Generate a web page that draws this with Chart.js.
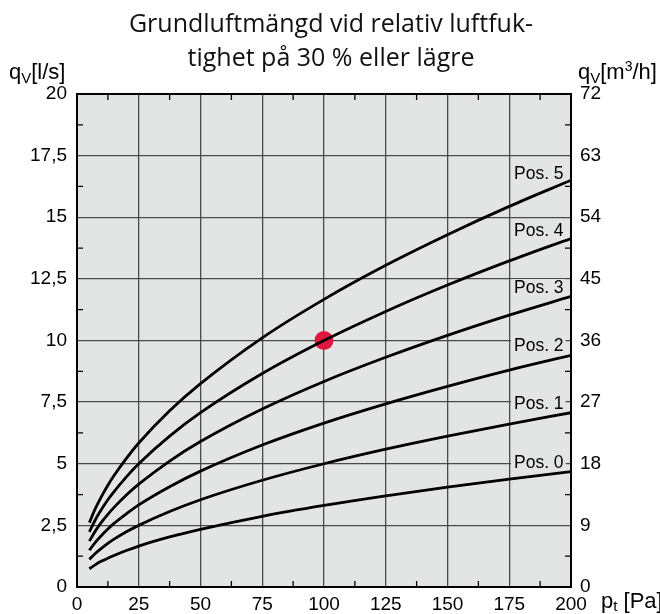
<!DOCTYPE html>
<html>
<head>
<meta charset="utf-8">
<script src="https://cdn.jsdelivr.net/npm/chart.js@4.4.1/dist/chart.umd.min.js"></script>
<style>
  html, body { margin: 0; padding: 0; background: #fff; }
  #wrap { width: 660px; height: 614px; }
</style>
</head>
<body>
<div id="wrap"><canvas id="myChart" width="660" height="614"></canvas></div>
<script>
const pressure = [5, 7.5, 10, 12.5, 15, 20, 25, 37.5, 50, 75, 100, 125, 150, 175, 200];

// air flow q_V [l/s] per damper position
const pos0 = [0.74, 0.91, 1.05, 1.17, 1.28, 1.48, 1.66, 2.03, 2.34, 2.87, 3.31, 3.70, 4.05, 4.38, 4.68];
const pos1 = [1.12, 1.37, 1.58, 1.77, 1.94, 2.24, 2.50, 3.06, 3.54, 4.33, 5.00, 5.59, 6.12, 6.61, 7.07];
const pos2 = [1.49, 1.82, 2.10, 2.35, 2.58, 2.97, 3.33, 4.07, 4.70, 5.76, 6.65, 7.43, 8.14, 8.80, 9.40];
const pos3 = [1.86, 2.28, 2.64, 2.95, 3.23, 3.73, 4.17, 5.11, 5.90, 7.22, 8.34, 9.32, 10.21, 11.03, 11.79];
const pos4 = [2.24, 2.74, 3.16, 3.54, 3.87, 4.47, 5.00, 6.12, 7.07, 8.66, 10.00, 11.18, 12.25, 13.23, 14.14];
const pos5 = [2.61, 3.20, 3.69, 4.13, 4.52, 5.22, 5.84, 7.15, 8.25, 10.11, 11.67, 13.05, 14.29, 15.44, 16.50];

const posNames = ['Pos. 0', 'Pos. 1', 'Pos. 2', 'Pos. 3', 'Pos. 4', 'Pos. 5'];
// where each "Pos." label sits (x right end, y centre)
const posLabelX = 197;
const posLabelY = [5.03, 7.4, 9.76, 12.13, 14.44, 16.75];

// marked operating point
const pointX = [100];
const pointY = [10];

const titleLines = ['Grundluftmängd vid relativ luftfuk-', 'tighet på 30 % eller lägre'];

const series = [pos0, pos1, pos2, pos3, pos4, pos5];

const toPoints = (xs, ys) => xs.map((x, i) => ({ x: x, y: ys[i] }));

const datasets = series.map((s, i) => ({
  label: posNames[i],
  data: toPoints(pressure, s),
  borderColor: '#000',
  borderWidth: 2.8,
  pointRadius: 0,
  fill: false,
  cubicInterpolationMode: 'monotone',
  yAxisID: 'y'
}));

datasets.push({
  label: 'punkt',
  data: toPoints(pointX, pointY),
  showLine: false,
  pointRadius: 9.5,
  pointBackgroundColor: '#e0173f',
  pointBorderWidth: 0,
  yAxisID: 'y'
});

const TICK_FONT = { family: 'Liberation Sans, Arial, sans-serif', size: 19 };
const PLOT_BG = '#e3e4e4';

// sub/superscript helper: parts = [[text, size, dy], ...]
function drawRich(ctx, x, y, parts) {
  let cx = x;
  parts.forEach(p => {
    ctx.font = p[1] + 'px "Liberation Sans", Arial, sans-serif';
    ctx.fillText(p[0], cx, y + p[2]);
    cx += ctx.measureText(p[0]).width;
  });
}

const decor = {
  id: 'decor',
  beforeDraw(chart) {
    const { ctx, chartArea: a } = chart;
    ctx.save();
    ctx.fillStyle = PLOT_BG;
    ctx.fillRect(a.left, a.top, a.right - a.left, a.bottom - a.top);
    ctx.restore();
  },
  beforeDatasetsDraw(chart) {
    const { ctx, chartArea: a, scales } = chart;
    ctx.save();
    ctx.strokeStyle = '#000';
    ctx.lineWidth = 1.3;
    const len = 6;
    ctx.beginPath();
    for (let v = 12.5; v < 200; v += 25) {
      const px = scales.x.getPixelForValue(v);
      ctx.moveTo(px, a.top); ctx.lineTo(px, a.top + len);
      ctx.moveTo(px, a.bottom); ctx.lineTo(px, a.bottom - len);
    }
    for (let v = 1.25; v < 20; v += 2.5) {
      const py = scales.y.getPixelForValue(v);
      ctx.moveTo(a.left, py); ctx.lineTo(a.left + len, py);
      ctx.moveTo(a.right, py); ctx.lineTo(a.right - len, py);
    }
    ctx.stroke();

    // Pos labels with plot-coloured box
    ctx.font = '17.5px "Liberation Sans", Arial, sans-serif';
    ctx.textAlign = 'right';
    ctx.textBaseline = 'middle';
    posNames.forEach((n, i) => {
      const px = scales.x.getPixelForValue(posLabelX);
      const py = scales.y.getPixelForValue(posLabelY[i]);
      const w = ctx.measureText(n).width;
      ctx.fillStyle = PLOT_BG;
      ctx.fillRect(px - w - 3, py - 9, w + 5, 18);
      ctx.fillStyle = '#000';
      ctx.fillText(n, px, py);
    });
    ctx.restore();
  },
  afterDraw(chart) {
    const { ctx, chartArea: a } = chart;
    ctx.save();
    ctx.strokeStyle = '#000';
    ctx.lineWidth = 2;
    ctx.strokeRect(a.left, a.top, a.right - a.left, a.bottom - a.top);

    // title
    ctx.fillStyle = '#111';
    ctx.textAlign = 'center';
    ctx.textBaseline = 'alphabetic';
    ctx.font = '25px "Open Sans", sans-serif';
    ctx.fillText(titleLines[0], 331, 32);
    ctx.fillText(titleLines[1], 331, 66);

    // axis titles
    ctx.fillStyle = '#000';
    ctx.textAlign = 'left';
    drawRich(ctx, 9, 79, [['q', 22, 0], ['V', 15, 4], ['[l/s]', 22, 0]]);
    drawRich(ctx, 578, 79, [['q', 22, 0], ['V', 15, 4], ['[m', 22, 0], ['3', 14, -8], ['/h]', 22, 0]]);
    drawRich(ctx, 601, 608, [['p', 22, 0], ['t', 15, 3], [' [Pa]', 22, 0]]);
    ctx.restore();
  }
};

new Chart(document.getElementById('myChart').getContext('2d'), {
  type: 'line',
  data: { datasets },
  options: {
    responsive: false,
    animation: false,
    layout: { padding: { top: 94, left: 0, right: 0, bottom: 0 } },
    plugins: { legend: { display: false }, tooltip: { enabled: false } },
    scales: {
      x: {
        type: 'linear',
        min: 0, max: 200,
        ticks: { stepSize: 25, color: '#000', font: TICK_FONT, padding: 6, maxRotation: 0 },
        grid: { color: '#4a4a4a', lineWidth: 1.3, drawTicks: false },
        border: { display: true, color: '#000', width: 2 },
        afterFit: s => { s.height = 27; }
      },
      y: {
        position: 'left',
        min: 0, max: 20,
        ticks: { stepSize: 2.5, color: '#000', font: TICK_FONT, padding: 10,
                 callback: v => String(v).replace('.', ',') },
        grid: { color: '#4a4a4a', lineWidth: 1.3, drawTicks: false },
        border: { display: true, color: '#000', width: 2 },
        afterFit: s => { s.width = 77; }
      },
      y2: {
        position: 'right',
        min: 0, max: 72,
        ticks: { stepSize: 9, color: '#000', font: TICK_FONT, padding: 9 },
        grid: { display: false, drawTicks: false },
        border: { display: true, color: '#000', width: 2 },
        afterFit: s => { s.width = 89; }
      }
    }
  },
  plugins: [decor]
});
</script>
</body>
</html>
